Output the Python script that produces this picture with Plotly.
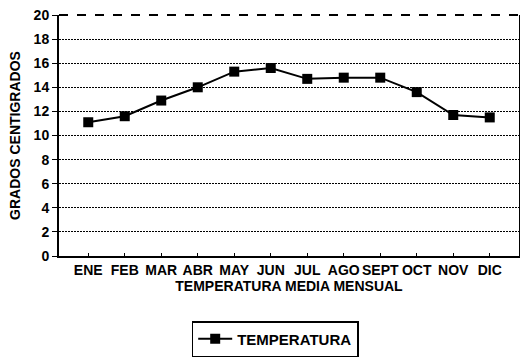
import plotly.graph_objects as go

# Temperatura media mensual (grados centígrados)
meses = ["ENE", "FEB", "MAR", "ABR", "MAY", "JUN", "JUL", "AGO", "SEPT", "OCT", "NOV", "DIC"]
temperatura = [11.1, 11.6, 12.9, 14.0, 15.3, 15.6, 14.7, 14.8, 14.8, 13.6, 11.7, 11.5]
y_ticks = [0, 2, 4, 6, 8, 10, 12, 14, 16, 18, 20]

FONT = "Liberation Sans"
tick_font = dict(family=FONT, size=14, color="black", weight="bold")

fig = go.Figure()
fig.add_trace(go.Scatter(
    x=meses,
    y=temperatura,
    mode="lines+markers",
    name="TEMPERATURA",
    line=dict(color="black", width=2),
    marker=dict(symbol="square", size=10, color="black"),
))

fig.update_layout(
    width=520,
    height=358,
    margin=dict(l=59, r=1, t=15, b=93),
    paper_bgcolor="white",
    plot_bgcolor="white",
    showlegend=True,
    legend=dict(
        x=0.47, xanchor="center",
        y=-0.27, yanchor="top",
        orientation="h",
        itemwidth=34,
        bordercolor="black",
        borderwidth=1.5,
        bgcolor="white",
        font=dict(family=FONT, size=15, color="black", weight="bold"),
    ),
    xaxis=dict(
        type="category",
        tickfont=tick_font,
        tickangle=0,
        automargin=False,
        showgrid=False,
        showline=True,
        linecolor="black",
        linewidth=2,
        ticks="inside",
        ticklen=3,
        tickcolor="black",
        title=dict(text="TEMPERATURA MEDIA MENSUAL",
                   font=dict(family=FONT, size=14, color="black", weight="bold"),
                   standoff=4),
    ),
    yaxis=dict(
        range=[0, 20],
        tickvals=y_ticks,
        tickfont=tick_font,
        automargin=False,
        showgrid=True,
        gridcolor="black",
        gridwidth=1.3,
        griddash="2px,1px",
        showline=True,
        linecolor="black",
        linewidth=2,
        mirror=True,
        ticks="outside",
        ticklen=5,
        tickcolor="black",
        zeroline=False,
        title=dict(text="GRADOS CENTIGRADOS",
                   font=dict(family=FONT, size=14, color="black", weight="bold"),
                   standoff=10),
    ),
)

# Dashed upper frame of the plotting area
fig.add_shape(type="line", xref="paper", yref="paper", x0=0, x1=1, y0=1, y1=1,
              line=dict(color="black", width=2, dash="dash"))

fig.write_html("out.html")
